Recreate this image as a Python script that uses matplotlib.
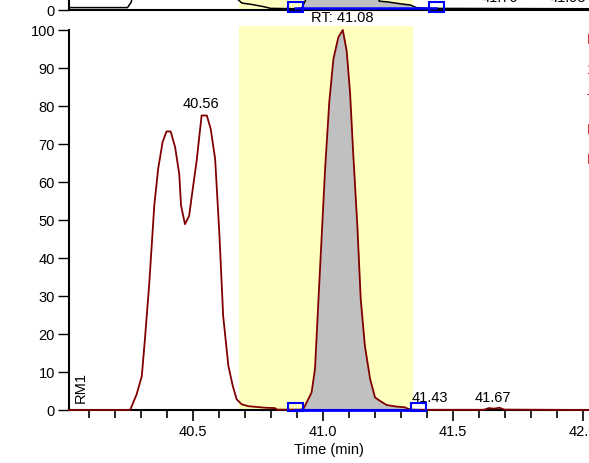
import numpy as np
import matplotlib
matplotlib.use("Agg")
import matplotlib.pyplot as plt
from matplotlib.patches import Rectangle

plt.rcParams['font.family'] = ['Liberation Sans', 'DejaVu Sans']
FS = 10.5

# main trace (time in min, relative abundance)
main_t = [40.025, 40.26, 40.285, 40.305, 40.317, 40.334, 40.353, 40.368, 40.385, 40.400,
          40.416, 40.433, 40.449, 40.456, 40.471, 40.487, 40.501, 40.516, 40.535, 40.555,
          40.570, 40.587, 40.603, 40.618, 40.638, 40.655, 40.670, 40.689, 40.715, 40.779,
          40.817, 40.825, 40.913, 40.926, 40.939, 40.958, 40.971, 40.984, 40.997, 41.010,
          41.026, 41.042, 41.061, 41.078, 41.093, 41.106, 41.118, 41.134, 41.147, 41.163,
          41.183, 41.202, 41.221, 41.247, 41.285, 41.317, 41.329, 41.344, 41.40, 41.62,
          41.64, 41.66, 41.68, 41.70, 42.025]
main_i = [0, 0, 4.1, 8.9, 18.6, 33.6, 53.8, 63.5, 70.5, 73.3,
          73.3, 69.2, 62.1, 53.8, 48.9, 51.1, 58.2, 65.6, 77.5, 77.5,
          74.0, 66.1, 46.8, 24.7, 11.6, 6.3, 2.8, 1.5, 1.0, 0.6,
          0.5, 0.1, 0.1, 0.2, 2.0, 4.6, 10.7, 28.4, 45.9, 63.4,
          81.0, 92.4, 98.1, 100.0, 94.5, 83.5, 67.7, 48.5, 29.2, 16.9,
          8.2, 3.3, 2.4, 1.3, 0.9, 0.7, 0.3, 0.1, 0.05, 0.05,
          0.5, 0.35, 0.6, 0.1, 0.0]

# upper (cropped) trace
top_t = [40.025, 40.25, 40.265, 40.28, 40.30, 40.62, 40.66, 40.672, 40.69, 40.71,
         40.73, 40.77, 40.80, 40.90, 40.92, 40.935, 40.95, 41.00, 41.08, 41.15,
         41.19, 41.218, 41.25, 41.28, 41.31, 41.337, 41.36, 41.40, 42.025]
top_i = [0.5, 0.5, 2.0, 15, 60, 60, 10, 2.8, 1.7, 1.5,
         1.3, 0.8, 0.3, 0.2, 0.3, 2.5, 10, 60, 100, 50,
         10, 2.2, 2.0, 1.7, 1.4, 1.2, 0.5, 0.3, 0.2]

yticks = [0, 10, 20, 30, 40, 50, 60, 70, 80, 90, 100]
xticks = [40.5, 41.0, 41.5, 42.0]
xtick_labels = ['40.5', '41.0', '41.5', '42.0']

range_win = (40.679, 41.348)      # yellow window
main_base = (40.896, 41.369)      # integration baseline
top_base = (40.896, 41.438)
top_labels = [(41.683, '41.70'), (41.944, '41.93')]
main_labels = [(40.533, 80.8, '40.56'), (41.412, 3.3, '41.43'), (41.654, 3.55, '41.67')]

W, H = 589, 464
fig = plt.figure(figsize=(W / 100, H / 100), dpi=100)
xl = (40.025, 42.025)

# ---- upper panel (only its bottom is visible)
ax2 = fig.add_axes([69 / W, (H - 10.5) / H, 520 / W, 400 / H])
ax2.set_xlim(xl)
ax2.set_ylim(0, 400 / 3.8)
ax2.axvspan(*range_win, color='#FFFFC0', zorder=0, lw=0)
tt = np.array(top_t); ti = np.array(top_i)
m = (tt >= 40.92) & (tt <= 41.337)
ax2.fill_between(tt[m], ti[m], 0.4, color='#C0C0C0', lw=0, zorder=1)
ax2.plot(top_t, top_i, color='black', lw=1.1, zorder=3)
ax2.plot(top_base, [0.4, 0.4], color='#0000FF', lw=1.8, zorder=4)
for xb in top_base:
    ax2.add_patch(Rectangle((xb - 0.029, -0.6), 0.058, 2.6, fill=False,
                            ec='#0000FF', lw=1.5, clip_on=False, zorder=5))
for xp, s in top_labels:
    ax2.text(xp, 2.2, s, ha='center', va='baseline', fontsize=FS)
ax2.set_yticks([0])
ax2.set_xticks([])
for s in ['top', 'right']:
    ax2.spines[s].set_visible(False)
ax2.spines['left'].set_linewidth(1.5)
ax2.spines['bottom'].set_linewidth(1.5)
ax2.tick_params(axis='y', direction='out', length=8, width=1, labelsize=FS, pad=2)

# ---- main panel
ax = fig.add_axes([69 / W, (H - 411) / H, 520 / W, 384 / H])
ax.set_xlim(xl)
ax.set_ylim(0, 384 / 3.8)
ax.axvspan(*range_win, color='#FFFFC0', zorder=0, lw=0)
mt = np.array(main_t); mi = np.array(main_i)
m = (mt >= main_base[0]) & (mt <= main_base[1])
ax.fill_between(mt[m], mi[m], 0, color='#C0C0C0', lw=0, zorder=1)
ax.plot(main_t, main_i, color='#800000', lw=1.3, zorder=3, clip_on=False)
ax.plot(main_base, [0, 0], color='#0000FF', lw=2, zorder=4, clip_on=False)
for xb in main_base:
    ax.add_patch(Rectangle((xb - 0.029, -0.3), 0.058, 2.2, fill=False,
                           ec='#0000FF', lw=1.5, clip_on=False, zorder=5))

ax.text(41.075, 103.4, 'RT: 41.08', ha='center', va='center', fontsize=FS, clip_on=False)
for xp, yp, s in main_labels:
    ax.text(xp, yp, s, ha='center', va='center', fontsize=FS)
ax.text(40.069, 6.3, 'RM1', rotation=90, ha='center', va='center', fontsize=FS)

ax.set_yticks(yticks)
ax.set_xticks(xticks)
ax.set_xticklabels(xtick_labels)
ax.set_xticks(np.arange(40.1, 42.05, 0.1), minor=True)
for s in ['top', 'right']:
    ax.spines[s].set_visible(False)
ax.spines['left'].set_bounds(0, 100)
ax.spines['left'].set_linewidth(1.5)
ax.spines['bottom'].set_linewidth(1.5)
ax.tick_params(axis='y', direction='out', length=8, width=1, labelsize=FS, pad=2)
ax.tick_params(axis='x', which='major', direction='out', length=8, width=1.2, labelsize=FS, pad=2)
ax.tick_params(axis='x', which='minor', direction='out', length=5.5, width=1.2)
ax.set_xlabel('Time (min)', fontsize=FS, labelpad=3)

# red side text of the next panel, cut by the right edge
side = ['NL:', '1.2E7', 'TIC F:', 'MS', 'RM1']
for k, s in enumerate(side):
    fig.text(587 / W, (H - 40 - k * 30) / H, s, color='#C00000', fontsize=FS, va='center')

fig.savefig('out.png', dpi=100)
